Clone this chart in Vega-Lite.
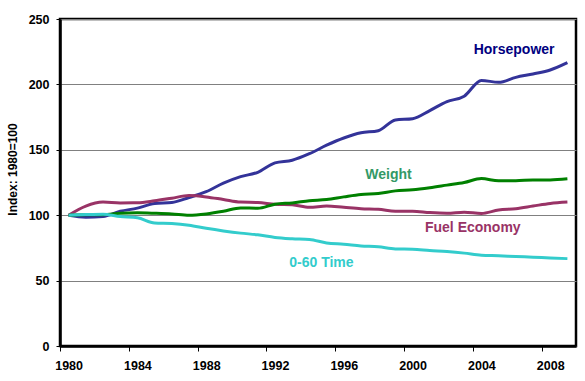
{
  "$schema": "https://vega.github.io/schema/vega-lite/v6.json",
  "width": 516,
  "height": 327,
  "autosize": "none",
  "padding": {"left": 60, "top": 19, "right": 9, "bottom": 35},
  "background": "white",
  "config": {
    "font": "Liberation Sans",
    "view": {"stroke": "black", "strokeWidth": 2.5},
    "axis": {"labelFont": "Liberation Sans", "labelFontWeight": "bold", "labelFontSize": 12.5, "labelColor": "black", "titleFont": "Liberation Sans", "domainColor": "black", "domainWidth": 2.5, "tickColor": "black", "tickWidth": 1}
  },
  "datasets": {
    "series": [
      {"year": 1980, "s": "Horsepower", "v": 100}, {"year": 1981, "s": "Horsepower", "v": 98.5}, {"year": 1982, "s": "Horsepower", "v": 99}, {"year": 1983, "s": "Horsepower", "v": 103}, {"year": 1984, "s": "Horsepower", "v": 105.4}, {"year": 1985, "s": "Horsepower", "v": 109}, {"year": 1986, "s": "Horsepower", "v": 109.7}, {"year": 1987, "s": "Horsepower", "v": 113.5}, {"year": 1988, "s": "Horsepower", "v": 118}, {"year": 1989, "s": "Horsepower", "v": 124.5}, {"year": 1990, "s": "Horsepower", "v": 129.5}, {"year": 1991, "s": "Horsepower", "v": 132.8}, {"year": 1992, "s": "Horsepower", "v": 140}, {"year": 1993, "s": "Horsepower", "v": 142}, {"year": 1994, "s": "Horsepower", "v": 147}, {"year": 1995, "s": "Horsepower", "v": 153.5}, {"year": 1996, "s": "Horsepower", "v": 159}, {"year": 1997, "s": "Horsepower", "v": 163}, {"year": 1998, "s": "Horsepower", "v": 164.6}, {"year": 1999, "s": "Horsepower", "v": 172.8}, {"year": 2000, "s": "Horsepower", "v": 173.8}, {"year": 2001, "s": "Horsepower", "v": 180}, {"year": 2002, "s": "Horsepower", "v": 186.8}, {"year": 2003, "s": "Horsepower", "v": 191}, {"year": 2004, "s": "Horsepower", "v": 203}, {"year": 2005, "s": "Horsepower", "v": 201.6}, {"year": 2006, "s": "Horsepower", "v": 205.4}, {"year": 2007, "s": "Horsepower", "v": 208}, {"year": 2008, "s": "Horsepower", "v": 211}, {"year": 2009, "s": "Horsepower", "v": 216.6},
      {"year": 1980, "s": "Fuel Economy", "v": 100}, {"year": 1981, "s": "Fuel Economy", "v": 107}, {"year": 1982, "s": "Fuel Economy", "v": 110}, {"year": 1983, "s": "Fuel Economy", "v": 109.4}, {"year": 1984, "s": "Fuel Economy", "v": 109.5}, {"year": 1985, "s": "Fuel Economy", "v": 111}, {"year": 1986, "s": "Fuel Economy", "v": 113}, {"year": 1987, "s": "Fuel Economy", "v": 115}, {"year": 1988, "s": "Fuel Economy", "v": 114}, {"year": 1989, "s": "Fuel Economy", "v": 112}, {"year": 1990, "s": "Fuel Economy", "v": 110}, {"year": 1991, "s": "Fuel Economy", "v": 109.7}, {"year": 1992, "s": "Fuel Economy", "v": 108.4}, {"year": 1993, "s": "Fuel Economy", "v": 108}, {"year": 1994, "s": "Fuel Economy", "v": 106}, {"year": 1995, "s": "Fuel Economy", "v": 107}, {"year": 1996, "s": "Fuel Economy", "v": 106}, {"year": 1997, "s": "Fuel Economy", "v": 105}, {"year": 1998, "s": "Fuel Economy", "v": 104.6}, {"year": 1999, "s": "Fuel Economy", "v": 103}, {"year": 2000, "s": "Fuel Economy", "v": 103}, {"year": 2001, "s": "Fuel Economy", "v": 102}, {"year": 2002, "s": "Fuel Economy", "v": 101.5}, {"year": 2003, "s": "Fuel Economy", "v": 102.3}, {"year": 2004, "s": "Fuel Economy", "v": 101.3}, {"year": 2005, "s": "Fuel Economy", "v": 104}, {"year": 2006, "s": "Fuel Economy", "v": 105}, {"year": 2007, "s": "Fuel Economy", "v": 107}, {"year": 2008, "s": "Fuel Economy", "v": 109}, {"year": 2009, "s": "Fuel Economy", "v": 110},
      {"year": 1980, "s": "Weight", "v": 100}, {"year": 1981, "s": "Weight", "v": 100.3}, {"year": 1982, "s": "Weight", "v": 100.3}, {"year": 1983, "s": "Weight", "v": 101.5}, {"year": 1984, "s": "Weight", "v": 101.8}, {"year": 1985, "s": "Weight", "v": 101.5}, {"year": 1986, "s": "Weight", "v": 101}, {"year": 1987, "s": "Weight", "v": 100}, {"year": 1988, "s": "Weight", "v": 101}, {"year": 1989, "s": "Weight", "v": 103}, {"year": 1990, "s": "Weight", "v": 105.6}, {"year": 1991, "s": "Weight", "v": 105.3}, {"year": 1992, "s": "Weight", "v": 108.4}, {"year": 1993, "s": "Weight", "v": 109.4}, {"year": 1994, "s": "Weight", "v": 111}, {"year": 1995, "s": "Weight", "v": 112}, {"year": 1996, "s": "Weight", "v": 114}, {"year": 1997, "s": "Weight", "v": 115.8}, {"year": 1998, "s": "Weight", "v": 116.6}, {"year": 1999, "s": "Weight", "v": 118.6}, {"year": 2000, "s": "Weight", "v": 119.4}, {"year": 2001, "s": "Weight", "v": 121}, {"year": 2002, "s": "Weight", "v": 123}, {"year": 2003, "s": "Weight", "v": 125}, {"year": 2004, "s": "Weight", "v": 128}, {"year": 2005, "s": "Weight", "v": 126.3}, {"year": 2006, "s": "Weight", "v": 126.3}, {"year": 2007, "s": "Weight", "v": 127}, {"year": 2008, "s": "Weight", "v": 127}, {"year": 2009, "s": "Weight", "v": 127.8},
      {"year": 1980, "s": "0-60 Time", "v": 100}, {"year": 1981, "s": "0-60 Time", "v": 100.5}, {"year": 1982, "s": "0-60 Time", "v": 100.8}, {"year": 1983, "s": "0-60 Time", "v": 99}, {"year": 1984, "s": "0-60 Time", "v": 98}, {"year": 1985, "s": "0-60 Time", "v": 94}, {"year": 1986, "s": "0-60 Time", "v": 93.6}, {"year": 1987, "s": "0-60 Time", "v": 92.3}, {"year": 1988, "s": "0-60 Time", "v": 90}, {"year": 1989, "s": "0-60 Time", "v": 88}, {"year": 1990, "s": "0-60 Time", "v": 86.3}, {"year": 1991, "s": "0-60 Time", "v": 85}, {"year": 1992, "s": "0-60 Time", "v": 83}, {"year": 1993, "s": "0-60 Time", "v": 82}, {"year": 1994, "s": "0-60 Time", "v": 81.4}, {"year": 1995, "s": "0-60 Time", "v": 78.8}, {"year": 1996, "s": "0-60 Time", "v": 77.8}, {"year": 1997, "s": "0-60 Time", "v": 76.5}, {"year": 1998, "s": "0-60 Time", "v": 75.8}, {"year": 1999, "s": "0-60 Time", "v": 74.2}, {"year": 2000, "s": "0-60 Time", "v": 74}, {"year": 2001, "s": "0-60 Time", "v": 73}, {"year": 2002, "s": "0-60 Time", "v": 72.2}, {"year": 2003, "s": "0-60 Time", "v": 71}, {"year": 2004, "s": "0-60 Time", "v": 69.4}, {"year": 2005, "s": "0-60 Time", "v": 69}, {"year": 2006, "s": "0-60 Time", "v": 68.4}, {"year": 2007, "s": "0-60 Time", "v": 67.9}, {"year": 2008, "s": "0-60 Time", "v": 67.3}, {"year": 2009, "s": "0-60 Time", "v": 66.8}
    ],
    "labels": [
      {"year": 2005.9, "v": 226, "s": "Horsepower"},
      {"year": 1998.6, "v": 130.7, "s": "Weight"},
      {"year": 2003.5, "v": 90.2, "s": "Fuel Economy"},
      {"year": 1994.7, "v": 63.7, "s": "0-60 Time"}
    ]
  },
  "layer": [
    {
      "data": {"name": "series"},
      "mark": {"type": "line", "strokeWidth": 3, "interpolate": "monotone", "clip": true},
      "encoding": {
        "x": {
          "field": "year", "type": "quantitative",
          "scale": {"domain": [1979.5, 2009.5], "nice": false, "zero": false},
          "axis": {
            "title": null, "grid": false,
            "values": [1979.5,1980.5,1981.5,1982.5,1983.5,1984.5,1985.5,1986.5,1987.5,1988.5,1989.5,1990.5,1991.5,1992.5,1993.5,1994.5,1995.5,1996.5,1997.5,1998.5,1999.5,2000.5,2001.5,2002.5,2003.5,2004.5,2005.5,2006.5,2007.5,2008.5,2009.5],
            "labelExpr": "(datum.value + 0.5) % 4 == 0 && datum.value < 2009 ? '' + (datum.value + 0.5) : ''",
            "labelOffset": 8.6,
            "labelOverlap": false,
            "labelFlush": false,
            "labelBound": false,
            "tickSize": 5,
            "labelPadding": 8
          }
        },
        "y": {
          "field": "v", "type": "quantitative",
          "scale": {"domain": [0, 250], "nice": false},
          "axis": {
            "title": "Index: 1980=100", "titleFontSize": 12, "titleFontWeight": "bold", "titleColor": "black",
            "titleX": -41, "titleY": 150,
            "values": [0, 50, 100, 150, 200, 250],
            "grid": true, "gridColor": "#808080", "gridWidth": 1,
            "tickSize": 4, "labelPadding": 7
          }
        },
        "color": {
          "field": "s", "type": "nominal", "legend": null,
          "scale": {"domain": ["Horsepower", "Weight", "Fuel Economy", "0-60 Time"], "range": ["#333399", "#008000", "#993366", "#33CCCC"]}
        }
      }
    },
    {
      "data": {"name": "labels"},
      "mark": {"type": "text", "fontSize": 14, "fontWeight": "bold", "font": "Liberation Sans", "align": "center", "baseline": "middle"},
      "encoding": {
        "x": {"field": "year", "type": "quantitative"},
        "y": {"field": "v", "type": "quantitative"},
        "text": {"field": "s"},
        "color": {
          "field": "s", "type": "nominal", "legend": null,
          "scale": {"domain": ["Horsepower", "Weight", "Fuel Economy", "0-60 Time"], "range": ["#000080", "#339966", "#993366", "#33CCCC"]}
        }
      }
    }
  ],
  "resolve": {"scale": {"color": "independent"}}
}
